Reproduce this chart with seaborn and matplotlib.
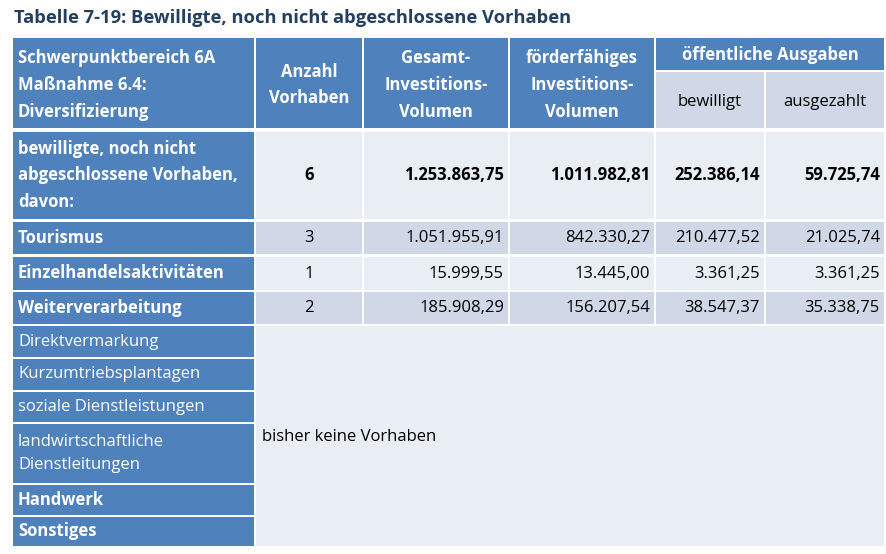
import matplotlib.pyplot as plt
from matplotlib.patches import Rectangle
import seaborn as sns

sns.set_style("white")
plt.rcParams['font.family'] = ['Open Sans', 'DejaVu Sans']

# Daten
titel = "Tabelle 7-19: Bewilligte, noch nicht abgeschlossene Vorhaben"
kopf = ["Schwerpunktbereich 6A\nMaßnahme 6.4:\nDiversifizierung", "Anzahl\nVorhaben",
        "Gesamt-\nInvestitions-\nVolumen", "förderfähiges\nInvestitions-\nVolumen"]
kopf_oa = "öffentliche Ausgaben"
kopf_unter = ["bewilligt", "ausgezahlt"]

zeilen = ["bewilligte, noch nicht\nabgeschlossene Vorhaben,\ndavon:", "Tourismus",
          "Einzelhandelsaktivitäten", "Weiterverarbeitung"]
anzahl = [6, 3, 1, 2]
gesamt = [1253863.75, 1051955.91, 15999.55, 185908.29]
foerder = [1011982.81, 842330.27, 13445.00, 156207.54]
bewilligt = [252386.14, 210477.52, 3361.25, 38547.37]
ausgezahlt = [59725.74, 21025.74, 3361.25, 35338.75]

leer_zeilen = ["Direktvermarkung", "Kurzumtriebsplantagen", "soziale Dienstleistungen",
               "landwirtschaftliche\nDienstleitungen", "Handwerk", "Sonstiges"]
leer_fett = [False, False, False, False, True, True]
leer_text = "bisher keine Vorhaben"

blau = "#4F81BD"
hell = "#E9EDF4"
mittel = "#D0D8E8"
fs = 12
ls = 1.62


def de(x):
    s = f"{x:,.2f}"
    return s.replace(",", "X").replace(".", ",").replace("X", ".")


fig = plt.figure(figsize=(8.87, 5.54), dpi=100)
ax = fig.add_axes([0, 0, 1, 1])
ax.set_xlim(0, 887)
ax.set_ylim(554, 0)
ax.axis("off")


def zelle(x0, x1, y0, y1, farbe):
    ax.add_patch(Rectangle((x0, y0), x1 - x0, y1 - y0, facecolor=farbe, edgecolor="none"))


spalten = [(13, 254), (256, 362), (364, 508), (510, 654), (656, 764), (766, 884)]

ax.text(14, 18, titel, fontsize=13.2, fontweight="bold", color="#243F60", va="center", ha="left")

# Kopfzeile
for i in range(4):
    x0, x1 = spalten[i]
    zelle(x0, x1, 38, 128, blau)
ax.text(18, 85, kopf[0], fontsize=fs, fontweight="bold", color="white", va="center", ha="left",
        linespacing=ls)
for i in range(1, 4):
    x0, x1 = spalten[i]
    ax.text((x0 + x1) / 2, 85, kopf[i], fontsize=fs, fontweight="bold", color="white",
            va="center", ha="center", linespacing=ls)
zelle(656, 884, 38, 70, blau)
ax.text((656 + 884) / 2, 55, kopf_oa, fontsize=fs, fontweight="bold", color="white",
        va="center", ha="center")
for j, t in enumerate(kopf_unter):
    x0, x1 = spalten[4 + j]
    zelle(x0, x1, 72, 128, mittel)
    ax.text((x0 + x1) / 2, 102, t, fontsize=fs, color="black", va="center", ha="center")

# Datenzeilen
grenzen = [(132, 219), (222, 254), (257, 290), (292, 324)]
for r, (y0, y1) in enumerate(grenzen):
    farbe = hell if r % 2 == 0 else mittel
    gewicht = "bold" if r == 0 else "normal"
    ym = (y0 + y1) / 2
    zelle(*spalten[0], y0, y1, blau)
    ax.text(18, ym, zeilen[r], fontsize=fs, fontweight="bold", color="white", va="center",
            ha="left", linespacing=ls)
    werte = [str(anzahl[r]), de(gesamt[r]), de(foerder[r]), de(bewilligt[r]), de(ausgezahlt[r])]
    for c in range(1, 6):
        x0, x1 = spalten[c]
        zelle(x0, x1, y0, y1, farbe)
        if c == 1:
            ax.text((x0 + x1) / 2, ym, werte[0], fontsize=fs, fontweight=gewicht, color="black",
                    va="center", ha="center")
        else:
            ax.text(x1 - 4, ym, werte[c - 1], fontsize=fs, fontweight=gewicht, color="black",
                    va="center", ha="right")

# leere Kategorien
leer_grenzen = [(326, 357), (359, 390), (392, 422), (424, 483), (485, 515), (517, 546)]
for k, (y0, y1) in enumerate(leer_grenzen):
    zelle(*spalten[0], y0, y1, blau)
    ax.text(18, (y0 + y1) / 2, leer_zeilen[k], fontsize=fs,
            fontweight="bold" if leer_fett[k] else "normal", color="white", va="center",
            ha="left", linespacing=ls)
zelle(256, 884, 326, 546, hell)
ax.text(262, 437, leer_text, fontsize=fs, color="black", va="center", ha="left")

fig.savefig("out.png", dpi=100, facecolor="white")
